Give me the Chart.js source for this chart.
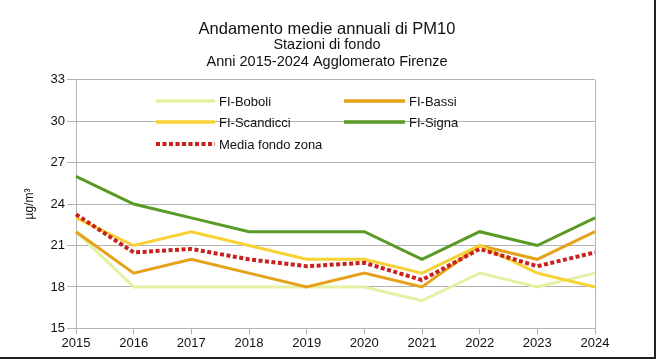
<!DOCTYPE html>
<html>
<head>
<meta charset="utf-8">
<script src="https://cdn.jsdelivr.net/npm/chart.js@4"></script>
<style>
  body { margin: 0; background: #fff; }
  #wrap { width: 654px; height: 357px; border-right: 2px solid #222; border-bottom: 2px solid #222; position: relative; }
</style>
</head>
<body>
<div id="wrap"><canvas id="chart"></canvas></div>
<script>
const years = ['2015', '2016', '2017', '2018', '2019', '2020', '2021', '2022', '2023', '2024'];
const boboli = [22, 18, 18, 18, 18, 18, 17, 19, 18, 19];
const bassi = [22, 19, 20, 19, 18, 19, 18, 21, 20, 22];
const scandicci = [23, 21, 22, 21, 20, 20, 19, 21, 19, 18];
const signa = [26, 24, 23, 22, 22, 22, 20, 22, 21, 23];
const media = [23.25, 20.5, 20.75, 20, 19.5, 19.75, 18.5, 20.75, 19.5, 20.5];
const yTicks = [15, 18, 21, 24, 27, 30, 33];

const FONT = "'Liberation Sans', Arial, sans-serif";
const gridGray = '#b3b3b3';

// legend drawn by hand: two columns inside the plot, like the original
const legendBox = {
  id: 'legendBox',
  afterDraw(chart) {
    const ctx = chart.ctx;
    const cols = [156, 344];
    const rows = [101, 122, 144];
    const place = [[0, 0], [1, 0], [0, 1], [1, 1], [0, 2]];
    ctx.save();
    ctx.font = '13px ' + FONT;
    ctx.textBaseline = 'middle';
    chart.data.datasets.forEach((ds, i) => {
      const x = cols[place[i][0]], y = rows[place[i][1]];
      const len = place[i][0] === 0 ? 59 : 61;
      ctx.strokeStyle = ds.borderColor;
      ctx.lineWidth = ds.borderDash ? 4 : 3.5;
      ctx.setLineDash(ds.borderDash || []);
      ctx.lineCap = 'butt';
      ctx.beginPath();
      ctx.moveTo(x, y);
      ctx.lineTo(x + len, y);
      ctx.stroke();
      ctx.setLineDash([]);
      ctx.fillStyle = '#111';
      ctx.fillText(ds.label, x + len + 4, y + 1);
    });
    ctx.restore();
  }
};

const config = {
  type: 'line',
  data: {
    labels: years,
    datasets: [
      { label: 'FI-Boboli', data: boboli, borderColor: '#e6f0a3', order: 4 },
      { label: 'FI-Bassi', data: bassi, borderColor: '#e3a21a', order: 3 },
      { label: 'FI-Scandicci', data: scandicci, borderColor: '#f8d234', order: 2 },
      { label: 'FI-Signa', data: signa, borderColor: '#589a23', order: 1 },
      { label: 'Media fondo zona', data: media, borderColor: '#c9211e', borderDash: [4, 2.5], borderWidth: 4, order: 0 }
    ]
  },
  options: {
    responsive: true,
    maintainAspectRatio: false,
    animation: false,
    layout: { padding: { left: 0, right: 0, top: 0, bottom: 5 } },
    elements: {
      line: { borderWidth: 3, tension: 0, fill: false, borderCapStyle: 'butt' },
      point: { radius: 0 }
    },
    plugins: {
      legend: { display: false },
      tooltip: { enabled: false },
      title: {
        display: true,
        text: 'Andamento medie annuali di PM10',
        color: '#111',
        font: { family: FONT, size: 16.5, weight: 'normal', lineHeight: 0.836 },
        padding: { top: 23, bottom: 0 }
      },
      subtitle: {
        display: true,
        text: ['Stazioni di fondo', 'Anni 2015-2024 Agglomerato Firenze'],
        color: '#111',
        font: { family: FONT, size: 14.5, weight: 'normal', lineHeight: 1.17 },
        padding: { top: 0, bottom: 9 }
      }
    },
    scales: {
      x: {
        offset: false,
        grid: {
          drawOnChartArea: true,
          color: c => c.index === years.length - 1 ? gridGray : 'rgba(0,0,0,0)',
          tickColor: gridGray,
          tickLength: 6
        },
        border: { display: true, color: gridGray },
        ticks: { color: '#111', font: { family: FONT, size: 13 }, padding: 1, maxRotation: 0, autoSkip: false }
      },
      y: {
        min: 15,
        max: 33,
        afterBuildTicks: s => { s.ticks = yTicks.map(v => ({ value: v })); },
        afterFit: s => { s.width = 76; },
        grid: { color: gridGray, tickColor: gridGray, tickLength: 9 },
        border: { display: true, color: gridGray },
        ticks: { color: '#111', font: { family: FONT, size: 13 }, padding: 2 },
        title: {
          display: true,
          text: 'µg/m³',
          color: '#111',
          font: { family: FONT, size: 12 },
          padding: { top: 22, bottom: 0 }
        }
      },
      // empty right-hand axis: only keeps the blank margin on the right
      yr: {
        position: 'right',
        min: 15,
        max: 33,
        afterFit: s => { s.width = 59; },
        grid: { display: false, drawTicks: false },
        border: { display: false },
        ticks: { display: false }
      }
    }
  },
  plugins: [legendBox]
};

new Chart(document.getElementById('chart'), config);
</script>
</body>
</html>
